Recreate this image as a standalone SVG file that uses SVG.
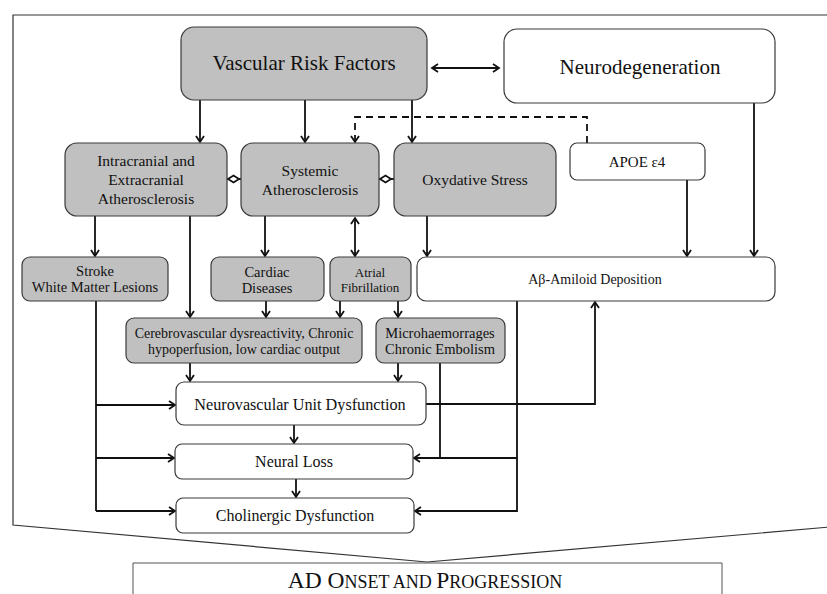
<svg xmlns="http://www.w3.org/2000/svg" width="827" height="594" viewBox="0 0 827 594">
<defs>
<marker id="ah" markerUnits="userSpaceOnUse" markerWidth="12" markerHeight="12" refX="7" refY="5" orient="auto-start-reverse" viewBox="0 0 12 10">
<path d="M1,1 L7,5 L1,9" fill="none" stroke="#111" stroke-width="1.8"/>
</marker>
<style>
.g{fill:#c0c0c0;stroke:#3a3a3a;stroke-width:1.2}
.w{fill:#fff;stroke:#3a3a3a;stroke-width:1.2}
text{font-family:"Liberation Serif","Times New Roman",serif;fill:#111;text-anchor:middle}
.c{fill:none;stroke:#111;stroke-width:1.8}
.a{marker-end:url(#ah)}
.d{fill:#fff;stroke:#111;stroke-width:1.8}
</style>
</defs>
<rect width="827" height="594" fill="#fff"/>
<path d="M830,15 L13,15 L13,525 L427,562 L830,527" fill="none" stroke="#333" stroke-width="1.2"/>
<g id="banner">
<path d="M133,594 L133,563 L722,563 L722,594" fill="#fff" stroke="#555" stroke-width="1"/>
<text x="425" y="588" font-size="23.5">AD O<tspan font-size="18">NSET AND </tspan>P<tspan font-size="18">ROGRESSION</tspan></text>
</g>
<g id="connectors">
<line class="c a" x1="200" y1="100" x2="200" y2="142"/>
<line class="c a" x1="305" y1="100" x2="305" y2="142"/>
<line class="c a" x1="412" y1="100" x2="412" y2="142"/>
<line class="c" x1="432" y1="68" x2="499" y2="68" marker-start="url(#ah)" marker-end="url(#ah)"/>
<path class="c a" d="M587,143 L587,117 L355,117 L355,142" stroke-dasharray="7,5"/>
<line class="c" x1="227" y1="179" x2="241" y2="179"/>
<path class="d" d="M228,179 L233.5,175.5 L239,179 L233.5,182.5 Z"/>
<line class="c" x1="379" y1="179" x2="394" y2="179"/>
<path class="d" d="M380,179 L385.5,175.5 L391,179 L385.5,182.5 Z"/>
<line class="c a" x1="687" y1="180" x2="687" y2="256"/>
<line class="c a" x1="754" y1="103" x2="754" y2="256"/>
<line class="c a" x1="95" y1="216" x2="95" y2="256"/>
<line class="c a" x1="190" y1="216" x2="190" y2="317"/>
<line class="c a" x1="265" y1="216" x2="265" y2="256"/>
<line class="c" x1="355" y1="218" x2="355" y2="256" marker-start="url(#ah)" marker-end="url(#ah)"/>
<line class="c a" x1="427" y1="216" x2="427" y2="256"/>
<line class="c a" x1="266" y1="301" x2="266" y2="317"/>
<line class="c a" x1="340" y1="301" x2="340" y2="317"/>
<line class="c a" x1="398" y1="301" x2="398" y2="317"/>
<line class="c a" x1="190" y1="363" x2="190" y2="381"/>
<line class="c a" x1="398" y1="363" x2="398" y2="381"/>
<line class="c" x1="96" y1="301" x2="96" y2="511"/>
<line class="c a" x1="96" y1="405" x2="175" y2="405"/>
<line class="c a" x1="96" y1="458" x2="174" y2="458"/>
<line class="c a" x1="96" y1="511" x2="175" y2="511"/>
<line class="c a" x1="294" y1="425" x2="294" y2="443"/>
<line class="c a" x1="296" y1="479" x2="296" y2="497"/>
<path class="c" d="M440,363 L440,458"/>
<path class="c a" d="M517,301 L517,458 L414,458"/>
<path class="c a" d="M517,458 L517,511 L415,511"/>
<path class="c a" d="M426,404 L595,404 L595,302"/>
</g>
<g id="vrf"><rect class="g" x="181" y="27" width="246" height="73" rx="13"/><text x="304" y="70" font-size="21">Vascular Risk Factors</text></g>
<g id="neuro"><rect class="w" x="504" y="29" width="271" height="74" rx="13"/><text x="640" y="74" font-size="21">Neurodegeneration</text></g>
<g id="intra"><rect class="g" x="65" y="143" width="162" height="73" rx="12"/><text x="146" y="166" font-size="15.5">Intracranial and</text><text x="146" y="185" font-size="15.5">Extracranial</text><text x="146" y="204" font-size="15.5">Atherosclerosis</text></g>
<g id="systemic"><rect class="g" x="241" y="143" width="138" height="73" rx="12"/><text x="310" y="176" font-size="15.5">Systemic</text><text x="310" y="195" font-size="15.5">Atherosclerosis</text></g>
<g id="oxy"><rect class="g" x="394" y="143" width="162" height="73" rx="12"/><text x="475" y="185" font-size="15.5">Oxydative Stress</text></g>
<g id="apoe"><rect class="w" x="570" y="143" width="135" height="37" rx="7"/><text x="637" y="167" font-size="15">APOE ε4</text></g>
<g id="stroke"><rect class="g" x="22" y="257" width="146" height="44" rx="8"/><text x="95" y="276" font-size="14.5">Stroke</text><text x="95" y="292" font-size="14.5">White Matter Lesions</text></g>
<g id="cardiac"><rect class="g" x="211" y="257" width="113" height="44" rx="8"/><text x="267" y="277" font-size="14.5">Cardiac</text><text x="267" y="293" font-size="14.5">Diseases</text></g>
<g id="atrial"><rect class="g" x="330" y="257" width="81" height="44" rx="8"/><text x="370" y="277" font-size="13">Atrial</text><text x="370" y="292" font-size="13">Fibrillation</text></g>
<g id="abeta"><rect class="w" x="417" y="257" width="358" height="44" rx="9"/><text x="595" y="284" font-size="14">Aβ-Amiloid Deposition</text></g>
<g id="cerebro"><rect class="g" x="126" y="318" width="236" height="45" rx="8"/><text x="244" y="338" font-size="14">Cerebrovascular dysreactivity, Chronic</text><text x="244" y="354" font-size="14">hypoperfusion, low cardiac output</text></g>
<g id="micro"><rect class="g" x="376" y="318" width="129" height="45" rx="8"/><text x="440" y="338" font-size="14.5">Microhaemorrages</text><text x="440" y="354" font-size="14.5">Chronic Embolism</text></g>
<g id="nud"><rect class="w" x="176" y="382" width="250" height="43" rx="8"/><text x="300" y="410" font-size="16.2">Neurovascular Unit Dysfunction</text></g>
<g id="neural"><rect class="w" x="175" y="444" width="238" height="35" rx="7"/><text x="294" y="467" font-size="16">Neural Loss</text></g>
<g id="cholin"><rect class="w" x="176" y="498" width="238" height="35" rx="7"/><text x="295" y="521" font-size="16">Cholinergic Dysfunction</text></g>
</svg>
